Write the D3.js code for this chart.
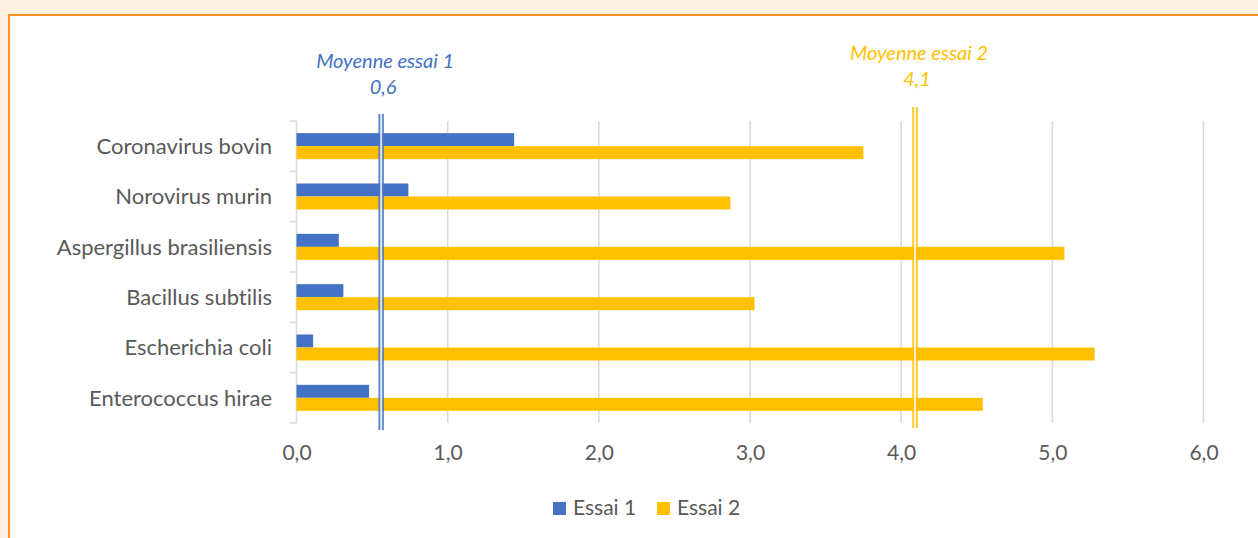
<!DOCTYPE html>
<html>

<head>
  <meta charset="utf-8" />
  <title>Essais</title>
  <style>
    html, body {
      margin: 0;
      padding: 0;
      background-color: #fdf0e0;
      overflow: hidden;
    }

    #frame {
      position: absolute;
      left: 8px;
      top: 14px;
      width: 1300px;
      height: 600px;
      background: #fff;
      border: 2px solid #f7941d;
    }

    svg {
      position: absolute;
      left: 0;
      top: 0;
      font-family: Lato, "Open Sans", sans-serif;
      font-variant-ligatures: none;
    }
  </style>
  <script src="https://cdnjs.cloudflare.com/ajax/libs/d3/7.8.5/d3.min.js"></script>
</head>

<body>
  <div id="frame"></div>
  <script>
    var categories = ['Coronavirus bovin', 'Norovirus murin', 'Aspergillus brasiliensis',
      'Bacillus subtilis', 'Escherichia coli', 'Enterococcus hirae'];
    var seriesNames = ['Essai 1', 'Essai 2'];
    var essai1 = [1.44, 0.74, 0.28, 0.31, 0.11, 0.48];
    var essai2 = [3.75, 2.87, 5.08, 3.03, 5.28, 4.54];
    var meanLabels = ['Moyenne essai 1', 'Moyenne essai 2'];
    var xTicks = [0, 1, 2, 3, 4, 5, 6];

    var colors = ['#4472c4', '#ffc000'];
    var w = 1258,
      h = 538;
    var plotLeft = 296.5,
      plotRight = 1203.5,
      plotTop = 121,
      plotBottom = 423;

    var xScale = d3.scaleLinear()
      .domain([0, 6])
      .range([plotLeft, plotRight]);

    var yScale = d3.scaleBand()
      .domain(categories)
      .range([plotTop, plotBottom]);

    var subScale = d3.scaleBand()
      .domain(seriesNames)
      .range([0, yScale.bandwidth()])
      .paddingOuter(0.935);

    var svg = d3.select('body').append('svg')
      .attr('width', w)
      .attr('height', h);

    // grid lines
    svg.append('g')
      .selectAll('line')
      .data(xTicks)
      .enter()
      .append('line')
      .attr('x1', d => xScale(d))
      .attr('x2', d => xScale(d))
      .attr('y1', plotTop)
      .attr('y2', plotBottom)
      .attr('stroke', '#d9d9d9')
      .attr('stroke-width', 1.5);

    // x tick labels
    var fmt = d => d.toFixed(1).replace('.', ',');
    var xAxis = svg.append('g')
      .attr('transform', 'translate(0,' + plotBottom + ')')
      .call(d3.axisBottom(xScale).tickValues(xTicks).tickFormat(fmt).tickSize(0).tickPadding(22));
    xAxis.select('.domain').remove();
    xAxis.selectAll('text')
      .attr('fill', '#595959')
      .style('font-family', 'Lato, sans-serif')
      .style('font-size', '21px');

    // y axis with tick marks between categories
    var bounds = categories.map(c => yScale(c)).concat([plotBottom]);
    svg.append('g')
      .selectAll('line')
      .data(bounds)
      .enter()
      .append('line')
      .attr('x1', plotLeft - 7)
      .attr('x2', plotLeft)
      .attr('y1', d => d)
      .attr('y2', d => d)
      .attr('stroke', '#d9d9d9')
      .attr('stroke-width', 1.5);

    svg.append('g')
      .selectAll('text')
      .data(categories)
      .enter()
      .append('text')
      .attr('x', 272)
      .attr('y', d => yScale(d) + yScale.bandwidth() / 2)
      .attr('dy', '0.35em')
      .attr('text-anchor', 'end')
      .attr('fill', '#595959')
      .style('font-size', '22px')
      .text(d => d);

    // bars
    var series = [essai1, essai2];
    series.forEach(function (vals, si) {
      svg.append('g')
        .selectAll('rect')
        .data(vals)
        .enter()
        .append('rect')
        .attr('x', xScale(0))
        .attr('y', (d, i) => yScale(categories[i]) + subScale(seriesNames[si]))
        .attr('width', d => xScale(d) - xScale(0))
        .attr('height', subScale.bandwidth())
        .attr('fill', colors[si]);
    });

    // mean lines (double lines)
    var meanTop = [114, 107],
      meanBottom = [430, 428],
      labelY = [68, 60];
    series.forEach(function (vals, i) {
      var m = d3.mean(vals);
      var x = xScale(m);
      svg.append('line')
        .attr('x1', x).attr('x2', x)
        .attr('y1', meanTop[i]).attr('y2', meanBottom[i])
        .attr('stroke', colors[i])
        .attr('stroke-width', 5.5)
        .attr('opacity', 0.85);
      svg.append('line')
        .attr('x1', x).attr('x2', x)
        .attr('y1', meanTop[i]).attr('y2', meanBottom[i])
        .attr('stroke', '#fff')
        .attr('stroke-width', 2)
        .attr('opacity', 0.8);
      var t = svg.append('text')
        .attr('y', labelY[i])
        .attr('text-anchor', 'middle')
        .attr('fill', colors[i])
        .style('font-style', 'italic')
        .style('font-size', '20px');
      t.append('tspan').attr('x', x + 4).text(meanLabels[i]);
      t.append('tspan').attr('x', x + 2).attr('dy', 26).text(fmt(m));
    });

    // legend
    var legendX = [553, 657];
    seriesNames.forEach(function (s, i) {
      svg.append('rect')
        .attr('x', legendX[i])
        .attr('y', 502)
        .attr('width', 13)
        .attr('height', 13)
        .attr('fill', colors[i]);
      svg.append('text')
        .attr('x', legendX[i] + 20)
        .attr('y', 515)
        .attr('fill', '#595959')
        .style('font-size', '21px')
        .text(s);
    });
  </script>
</body>

</html>
